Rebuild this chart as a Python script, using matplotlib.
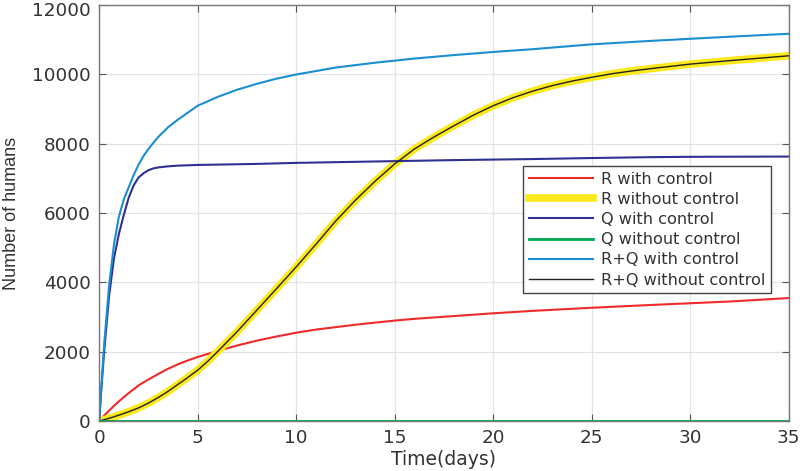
import matplotlib
matplotlib.use('Agg')
import matplotlib.pyplot as plt
from matplotlib.transforms import ScaledTranslation

# time grids (days)
t_fast = [0, 0.1, 0.25, 0.5, 0.75, 1, 1.25, 1.5, 1.75, 2, 2.25, 2.5, 2.75, 3, 3.5, 4,
          5, 6, 7, 8, 9, 10, 12, 14, 16, 18, 20, 22, 25, 28, 30, 32, 35]
t_r = [0, 0.25, 0.5, 0.75, 1, 1.5, 2, 2.5, 3, 3.5, 4, 4.5, 5, 6, 7, 8, 9, 10, 11, 12,
       13, 14, 15, 16, 18, 20, 22, 25, 28, 30, 32, 35]
t_y = [0, 0.5, 1, 1.5, 2, 2.5, 3, 3.5, 4, 4.5, 5, 5.5, 6, 7, 8, 9, 10, 11, 12, 13, 14,
       15, 16, 17, 18, 19, 20, 21, 22, 23, 24, 25, 26, 27, 28, 30, 32, 35]
t_end = [0, 35]

rq_ctrl = [0, 900, 2200, 3900, 5100, 5900, 6400, 6750, 7100, 7400, 7650, 7850, 8030,
           8200, 8480, 8700, 9100, 9350, 9560, 9730, 9880, 10000, 10200, 10340, 10460,
           10560, 10650, 10730, 10870, 10970, 11030, 11090, 11175]
q_ctrl = [0, 850, 2000, 3600, 4700, 5400, 5950, 6450, 6800, 7030, 7150, 7240, 7290,
          7320, 7350, 7370, 7390, 7400, 7410, 7420, 7435, 7450, 7470, 7490, 7510, 7530,
          7545, 7560, 7590, 7615, 7625, 7628, 7632]
r_ctrl = [0, 160, 300, 440, 570, 810, 1030, 1200, 1360, 1510, 1640, 1750, 1850, 2020,
          2180, 2320, 2440, 2550, 2640, 2710, 2780, 2840, 2900, 2950, 3030, 3110, 3180,
          3270, 3350, 3400, 3450, 3550]
r_noctrl = [0, 80, 170, 270, 380, 520, 680, 860, 1060, 1260, 1470, 1720, 2000, 2580,
            3200, 3820, 4450, 5100, 5770, 6370, 6920, 7420, 7850, 8200, 8520, 8830,
            9100, 9330, 9520, 9680, 9810, 9920, 10020, 10100, 10170, 10300, 10400, 10540]
q_noctrl = [0, 0]
rq_noctrl = r_noctrl

fig = plt.figure(figsize=(8, 4.71), dpi=100)
ax = fig.add_axes([0.124, 0.106, 0.862, 0.883])

ax.plot(t_r, r_ctrl, color='#ee2a2a', lw=1.5, label='R with control')
ax.plot(t_y, r_noctrl, color='#fbe91c', lw=5.5, label='R without control')
ax.plot(t_fast, q_ctrl, color='#2e3192', lw=1.5, label='Q with control')
ax.plot(t_end, q_noctrl, color='#00a651', lw=2, label='Q without control', zorder=4)
ax.plot(t_fast, rq_ctrl, color='#1a8fd0', lw=1.5, label='R+Q with control')
ax.plot(t_y, rq_noctrl, color='#222222', lw=1, label='R+Q without control')

ax.set_xlim(0, 35)
ax.set_ylim(0, 12000)
ax.set_xticks(range(0, 36, 5))
ax.set_yticks(range(0, 12001, 2000))
ax.grid(True, color='#e3e3e8', lw=0.9)
ax.set_axisbelow(True)
ax.tick_params(direction='in', top=True, right=True, length=5, width=0.8,
               colors='#555555', labelcolor='#333333', labelsize=13.2, pad=6)
for s in ax.spines.values():
    s.set_color('#777777')
    s.set_linewidth(1)

# keep the top label inside the canvas
fig.canvas.draw()
top = ax.get_yticklabels()[-1]
top.set_transform(top.get_transform() + ScaledTranslation(0, -4 / 100, fig.dpi_scale_trans))

ax.set_xlabel('Time(days)', fontsize=13.5, color='#333333', labelpad=2)
ax.set_ylabel('Number of humans', fontsize=13, family='Liberation Sans',
              color='#333333', labelpad=9)

leg = ax.legend(loc='upper left', bbox_to_anchor=(0.6145, 0.613), borderaxespad=0,
                fontsize=11.6, fancybox=False, framealpha=1, edgecolor='#444444',
                handlelength=4.0, handletextpad=0.5, labelspacing=0.32,
                borderpad=0.35)
leg.get_frame().set_linewidth(1)
for txt in leg.get_texts():
    txt.set_color('#333333')

fig.savefig('out.png', dpi=100)
